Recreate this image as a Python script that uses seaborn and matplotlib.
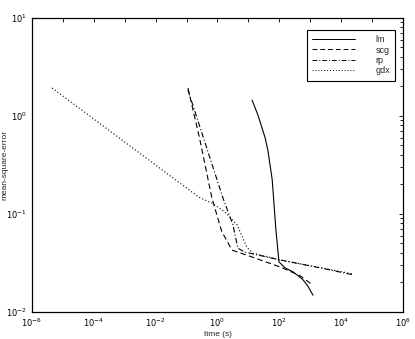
import numpy as np
import pandas as pd
import seaborn as sns
import matplotlib.pyplot as plt
from matplotlib.ticker import FixedLocator, LogLocator, FuncFormatter, NullFormatter

# training curves (time in s, mean-square-error)
lm_time = [13.2, 20.4, 34.7, 42.7, 58.9, 77.6, 97.7, 151, 275, 575, 851, 1230]
lm_mse = [1.45, 1.02, 0.60, 0.447, 0.224, 0.069, 0.0324, 0.0282, 0.0257, 0.0214, 0.0182, 0.0148]

scg_time = [0.111, 0.269, 0.661, 1.38, 2.95, 16.2, 123, 468, 1148]
scg_mse = [1.93, 0.575, 0.145, 0.066, 0.0427, 0.0355, 0.0282, 0.0234, 0.019]

rp_time = [0.111, 1.51, 3.16, 4.57, 7.76, 105, 2042, 22390]
rp_mse = [1.84, 0.145, 0.0776, 0.0447, 0.0407, 0.0339, 0.0282, 0.024]

gdx_time = [4.47e-6, 0.251, 0.661, 1.74, 4.27, 8.91, 14.1, 105, 22390]
gdx_mse = [1.93, 0.148, 0.129, 0.105, 0.0776, 0.0457, 0.0398, 0.0339, 0.0245]

methods = ["lm", "scg", "rp", "gdx"]

frames = []
for name, t, e in [("lm", lm_time, lm_mse), ("scg", scg_time, scg_mse),
                   ("rp", rp_time, rp_mse), ("gdx", gdx_time, gdx_mse)]:
    frames.append(pd.DataFrame({"time": t, "mse": e, "method": name}))
data = pd.concat(frames, ignore_index=True)

sns.set_style("white")
plt.rcParams["font.family"] = ["Liberation Sans", "DejaVu Sans"]

fig = plt.figure(figsize=(4.15, 3.39), dpi=100)
ax = fig.add_axes([0.077, 0.080, 0.894, 0.867])

dashes = {"lm": "", "scg": (5, 3), "rp": (5, 2, 1, 2), "gdx": (1, 2)}
sns.lineplot(data=data, x="time", y="mse", style="method", style_order=methods,
             dashes=dashes, color="black", linewidth=0.8, sort=False,
             estimator=None, ax=ax)

ax.set_xscale("log")
ax.set_yscale("log")
ax.set_xlim(1e-6, 1e6)
ax.set_ylim(1e-2, 1e1)

ax.xaxis.set_major_locator(FixedLocator([10.0 ** k for k in range(-6, 7)]))
ax.xaxis.set_minor_locator(FixedLocator([]))


def xfmt(v, pos):
    k = int(round(np.log10(v)))
    return r"$10^{%d}$" % k if k % 2 == 0 else ""


ax.xaxis.set_major_formatter(FuncFormatter(xfmt))
ax.yaxis.set_major_locator(FixedLocator([1e-2, 1e-1, 1e0, 1e1]))
ax.yaxis.set_major_formatter(FuncFormatter(lambda v, p: r"$10^{%d}$" % int(round(np.log10(v)))))
ax.yaxis.set_minor_locator(LogLocator(base=10, subs=np.arange(2, 10)))
ax.yaxis.set_minor_formatter(NullFormatter())

ax.tick_params(which="both", direction="in", top=True, right=True,
               labelsize=6, width=0.6, colors="black")
ax.tick_params(which="major", length=3)
ax.tick_params(which="minor", length=2)
for s in ax.spines.values():
    s.set_linewidth(0.9)
    s.set_color("black")

ax.set_xlabel("time (s)", fontsize=6, labelpad=1)
ax.set_ylabel("mean-square-error", fontsize=6)
ax.yaxis.set_label_coords(-0.063, 0.5)

leg = ax.legend(loc="upper right", fontsize=6.5, handlelength=4.8,
                handletextpad=2.2, borderpad=0.6, labelspacing=0.15,
                fancybox=False, framealpha=1, edgecolor="black",
                bbox_to_anchor=(0.992, 0.975))
leg.get_frame().set_linewidth(0.8)
for line in leg.get_lines():
    line.set_linewidth(0.7)

fig.savefig("out.png", dpi=100)
